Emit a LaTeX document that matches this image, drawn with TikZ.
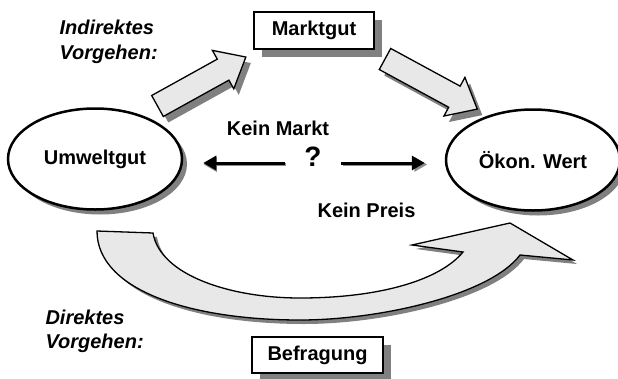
\documentclass[tikz,border=0pt]{standalone}
\usepackage{fontspec}
\setmainfont{Liberation Sans}
\usepackage{tikz}
\usetikzlibrary{shapes.geometric, shadows, arrows.meta}

\begin{document}
\begin{tikzpicture}
[x=1pt, y=-1pt,
every node/.style={font=\fontsize{20}{24}\selectfont\bfseries},
shadowed/.style={general shadow={fill=black!50, shadow xshift=5pt, shadow yshift=-5pt}},
value/.style={ellipse, draw=black, line width=2.5pt, fill=white, shadowed, minimum width=174pt, minimum height=101pt, inner sep=0pt},
method/.style={rectangle, draw=black, line width=2.5pt, fill=white, general shadow={fill=black!50, shadow xshift=8pt, shadow yshift=-8pt}, inner sep=0pt},
note/.style={align=left, anchor=west, font=\fontsize{20}{24.5}\selectfont\bfseries\itshape},
blockarrow/.style={draw=black, line width=1.3pt, fill=black!9, line join=miter},
blockshadow/.style={fill=black!50},
smallarrow/.style={line width=3pt, -{Triangle[length=13pt,width=14pt]}},
]
\useasboundingbox (0,0) rectangle (618,378);

\node[value] (umwelt) at (95,159) {Umweltgut};
\node[value] (oekon) at (533,160) {Ökon. Wert};
\node[method, minimum width=120pt, minimum height=37pt] (markt) at (314,30.5) {Marktgut};
\node[method, minimum width=131pt, minimum height=36pt] (befragung) at (317.5,355) {Befragung};

\node[note] (indirekt) at (56,42) {Indirektes\\Vorgehen:};
\node[note] (direkt) at (42,331.5) {Direktes\\Vorgehen:};

\node (keinmarkt) at (278,128) {Kein Markt};
\node[inner sep=0pt, font=\fontsize{28}{30}\selectfont\bfseries] (q) at (313,157) {?};
\node (keinpreis) at (366.5,210) {Kein Preis};

% block arrows: tail x / tail y / angle / length
\foreach \x/\y/\a/\l in {157.5/106/29/101, 385/59/-28.5/105}{
  \begin{scope}[shift={(\x+5,\y+6)}, rotate=\a]
    \fill[blockshadow] (0pt,-12pt) -- (\l pt-26pt,-12pt) -- (\l pt-26pt,-22pt) -- (\l pt,0pt) -- (\l pt-26pt,22pt) -- (\l pt-26pt,12pt) -- (0pt,12pt) -- cycle;
  \end{scope}
  \begin{scope}[shift={(\x,\y)}, rotate=\a]
    \draw[blockarrow] (0pt,-12pt) -- (\l pt-26pt,-12pt) -- (\l pt-26pt,-22pt) -- (\l pt,0pt) -- (\l pt-26pt,22pt) -- (\l pt-26pt,12pt) -- (0pt,12pt) -- cycle;
  \end{scope}
}

% curved arrow
\foreach \s/\st in {4/blockshadow, 0/blockarrow}{
  \begin{scope}[shift={(\s,\s)}]
    \path[\st] (97,231) -- (153,233) .. controls (160,275) and (230,298) .. (300,298)
      .. controls (380,298) and (440,280) .. (463,252) -- (412,245) -- (510,223) -- (573,260) -- (520,255)
      .. controls (490,295) and (380,320) .. (300,320) .. controls (190,320) and (97,290) .. (97,231) -- cycle;
  \end{scope}
}

\draw[smallarrow, black!45, shorten <=20pt, shorten >=19pt] ([xshift=1.5pt,yshift=-7.5pt]q.west) -- ([xshift=1.5pt,yshift=-7.5pt]q.west -| umwelt.east);
\draw[smallarrow, black!45, shorten <=20pt, shorten >=19pt] ([xshift=1.5pt,yshift=-7.5pt]q.east) -- ([xshift=1.5pt,yshift=-7.5pt]q.east -| oekon.west);
\draw[smallarrow, shorten <=19pt, shorten >=20pt] ([yshift=-6pt]q.west) -- ([yshift=-6pt]q.west -| umwelt.east);
\draw[smallarrow, shorten <=19pt, shorten >=20pt] ([yshift=-6pt]q.east) -- ([yshift=-6pt]q.east -| oekon.west);
\end{tikzpicture}
\end{document}
